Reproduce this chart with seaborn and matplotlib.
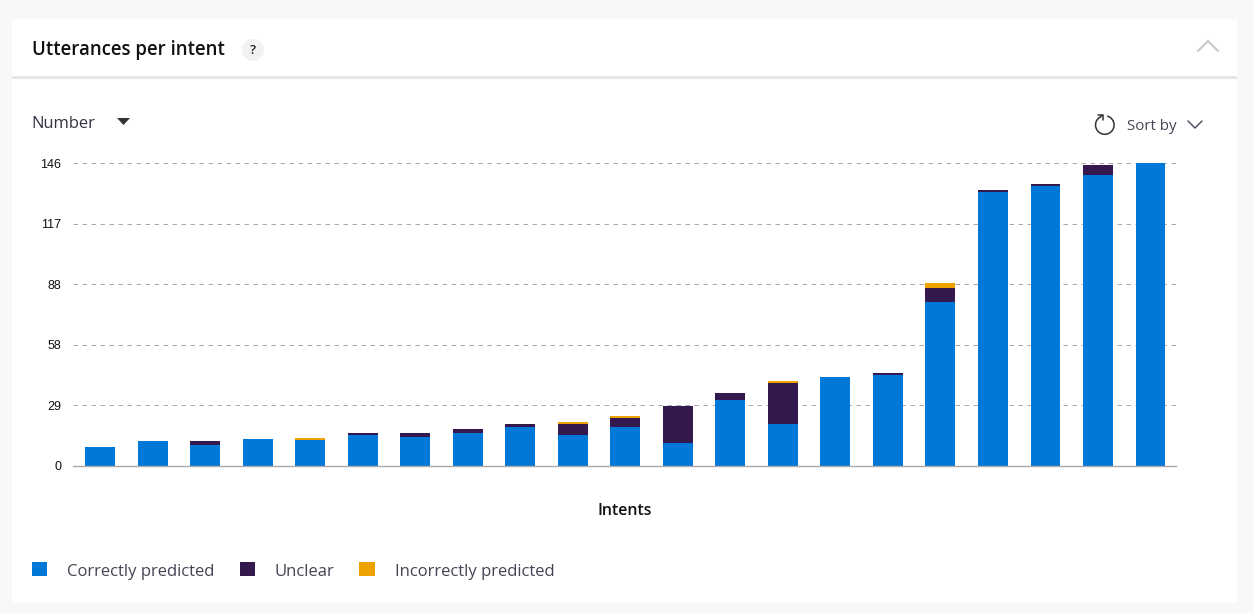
import matplotlib
matplotlib.use('Agg')
import matplotlib.pyplot as plt
import matplotlib.patches as mpatches
import numpy as np
import seaborn as sb

W, H = 1254, 613

intents = ['Intent {}'.format(i) for i in range(1, 22)]
correct = [9, 12, 10, 13, 12.5, 15, 14, 16, 19, 15, 19, 11, 32, 20, 43, 44, 79, 132, 135, 140, 146]
unclear = [0, 0, 2, 0, 0, 1, 2, 2, 1, 5, 4, 18, 3, 20, 0, 1, 7, 1, 1, 5, 0]
incorrect = [0, 0, 0, 0, 1, 0, 0, 0, 0, 1, 1, 0, 0, 1, 0, 0, 2, 0, 0, 0, 0]
y_ticks = [0, 29.2, 58.4, 87.6, 116.8, 146]
y_labels = ['0', '29', '58', '88', '117', '146']
legend_names = ['Correctly predicted', 'Unclear', 'Incorrectly predicted']
colors = ['#0078d7', '#34194f', '#eda200']

sb.set_theme(style='white')
plt.rcParams['font.family'] = ['Open Sans', 'DejaVu Sans']

fig = plt.figure(figsize=(W / 100, H / 100), dpi=100, facecolor='#f8f8f8')


def px_rect(left, top, right, bottom):
    # pixel box of the reference -> figure fractions
    return [left / W, 1 - bottom / H, (right - left) / W, (bottom - top) / H]


# card, header and the little icons are drawn in pixel coordinates
bg = fig.add_axes([0, 0, 1, 1], zorder=0)
bg.set_xlim(0, W)
bg.set_ylim(H, 0)
bg.axis('off')
bg.add_patch(mpatches.Rectangle((12, 19), 1225, 583, fc='white', ec='none'))
bg.add_patch(mpatches.Rectangle((12, 76), 1225, 3, fc='#e6e6e6', ec='none'))

bg.text(32, 49.5, 'Utterances per intent', fontsize=13.4, fontweight=600, color='#111111', va='center')
bg.add_patch(mpatches.Circle((253, 50), 11, fc='#f3f2f1', ec='none'))
bg.text(253, 51, '?', fontsize=9.5, fontweight=600, color='#222222', ha='center', va='center')
bg.plot([1198, 1208, 1218], [51, 41, 51], color='#c8c8c8', lw=1.5)

bg.text(31.5, 124, 'Number', fontsize=11.9, fontweight=500, color='#333344', va='center')
bg.add_patch(mpatches.Polygon([(117, 118), (130, 118), (123.5, 125)], fc='#333333', ec='none'))

bg.add_patch(mpatches.Arc((1104.8, 125), 18.5, 18.5, theta1=285, theta2=598, color='#333333', lw=1.1))
bg.plot([1097.5, 1102.5, 1102.5], [115, 115, 120], color='#333333', lw=1.1)
bg.plot([1099.8, 1102.5], [117.5, 115], color='#333333', lw=1.1)
bg.text(1127, 126, 'Sort by', fontsize=10.9, color='#444455', va='center')
bg.plot([1188, 1195, 1202], [121, 128, 121], color='#555566', lw=1.1)

ax = fig.add_axes(px_rect(73, 163, 1176, 466), zorder=1)
ax.patch.set_alpha(0)

# stacked bars, one seaborn call per series
bottom = np.zeros(len(intents))
for values, name, color in zip([correct, unclear, incorrect], legend_names, colors):
    sb.barplot(x=intents, y=values, bottom=bottom, color=color, saturation=1, width=0.57,
               label=name, ax=ax, legend=False, linewidth=0)
    bottom = bottom + np.array(values)

ax.set_xlim(-0.515, 20.485)
ax.set_ylim(0, 146)
ax.set_yticks(y_ticks)
ax.set_yticklabels(y_labels, fontfamily='Liberation Sans', fontsize=9, color='#111111')
ax.set_xticks([])
ax.tick_params(axis='y', length=0, pad=8.5)
ax.set_axisbelow(True)
ax.grid(axis='y', color='#aaaaaa', lw=0.72, linestyle=(0, (4.5, 4.5)))
ax.set_ylabel('')
ax.set_xlabel('Intents', fontsize=11.5, fontweight=600, color='#111111', labelpad=26.5)
sb.despine(ax=ax, left=True)
ax.spines['bottom'].set_color('#aaaaaa')
ax.spines['bottom'].set_linewidth(1)

leg = fig.legend(*ax.get_legend_handles_labels(), loc='lower left', bbox_to_anchor=(32 / W, 1 - 580.5 / H),
                 ncol=3, frameon=False, fontsize=12, labelcolor='#444455', borderpad=0, borderaxespad=0,
                 handlelength=0.91, handleheight=0.91, handletextpad=1.2, columnspacing=1.5)
# squares sit a little higher than the text
for h in leg.legend_handles:
    h.set_y(h.get_y() + 1.44)

plt.savefig('out.png', dpi=100, facecolor=fig.get_facecolor())
